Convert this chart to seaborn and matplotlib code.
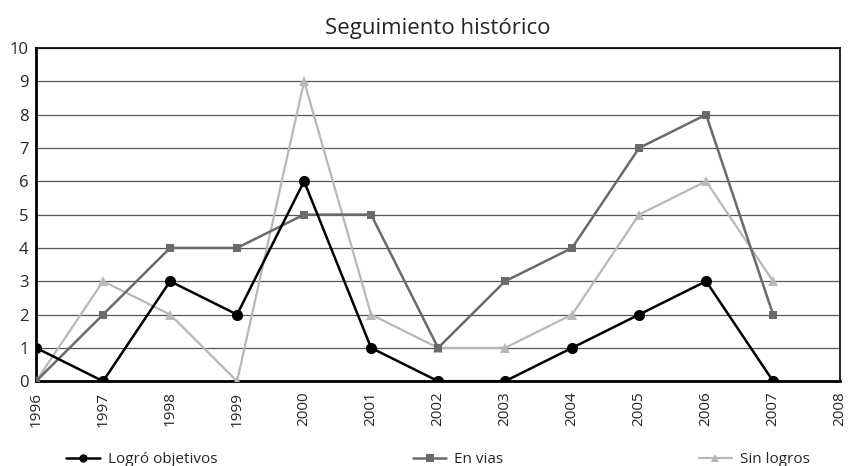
import matplotlib
matplotlib.use("Agg")
import matplotlib.pyplot as plt
import seaborn as sns
import pandas as pd

years = [1996, 1997, 1998, 1999, 2000, 2001, 2002, 2003, 2004, 2005, 2006, 2007]
logro = [1, 0, 3, 2, 6, 1, 0, 0, 1, 2, 3, 0]
en_vias = [0, 2, 4, 4, 5, 5, 1, 3, 4, 7, 8, 2]
sin_logros = [0, 3, 2, 0, 9, 2, 1, 1, 2, 5, 6, 3]
xticks = list(range(1996, 2009))

sns.set_style("white")
plt.rcParams['font.family'] = ['Open Sans', 'DejaVu Sans']

fig = plt.figure(figsize=(8.59, 4.66), dpi=100)
ax = fig.add_axes([0.042, 0.182, 0.936, 0.715])

df = pd.DataFrame({"year": years, "Logró objetivos": logro,
                   "En vias": en_vias, "Sin logros": sin_logros})

# lighter series first so the black one sits on top
sns.lineplot(data=df, x="year", y="Sin logros", ax=ax, color="#b8b8b8",
             marker="^", markersize=7, markeredgewidth=0, linewidth=1.6,
             label="Sin logros", zorder=3)
sns.lineplot(data=df, x="year", y="En vias", ax=ax, color="#6a6a6a",
             marker="s", markersize=6, markeredgewidth=0, linewidth=1.8,
             label="En vias", zorder=4)
sns.lineplot(data=df, x="year", y="Logró objetivos", ax=ax, color="black",
             marker="o", markersize=8, markeredgewidth=0, linewidth=1.8,
             label="Logró objetivos", zorder=5)

ax.set_xlim(1996, 2008)
ax.set_ylim(0, 10)
ax.set_xticks(xticks)
ax.set_xticklabels([str(y) for y in xticks], rotation=90, fontsize=11)
ax.set_yticks(range(0, 11))
ax.tick_params(axis="y", labelsize=12, pad=2)
ax.tick_params(axis="x", pad=4)
ax.set_xlabel("")
ax.set_ylabel("")
ax.yaxis.grid(True, color="#555555", linewidth=0.9)
ax.xaxis.grid(False)
for s in ax.spines.values():
    s.set_color("black")
    s.set_linewidth(1.2)
ax.spines["bottom"].set_linewidth(2)
ax.spines["left"].set_linewidth(2)

ax.set_title("Seguimiento histórico", fontsize=16, pad=10)

h, l = ax.get_legend_handles_labels()
order = [2, 1, 0]
leg = ax.legend([h[i] for i in order], [l[i] for i in order], loc="lower center",
                bbox_to_anchor=(0.5, -0.3), ncol=3, frameon=False, fontsize=11,
                columnspacing=12.8, handlelength=2.2, handletextpad=0.5)
for lh in leg.legend_handles:
    lh.set_markersize(6)

fig.savefig("out.png", dpi=100)
